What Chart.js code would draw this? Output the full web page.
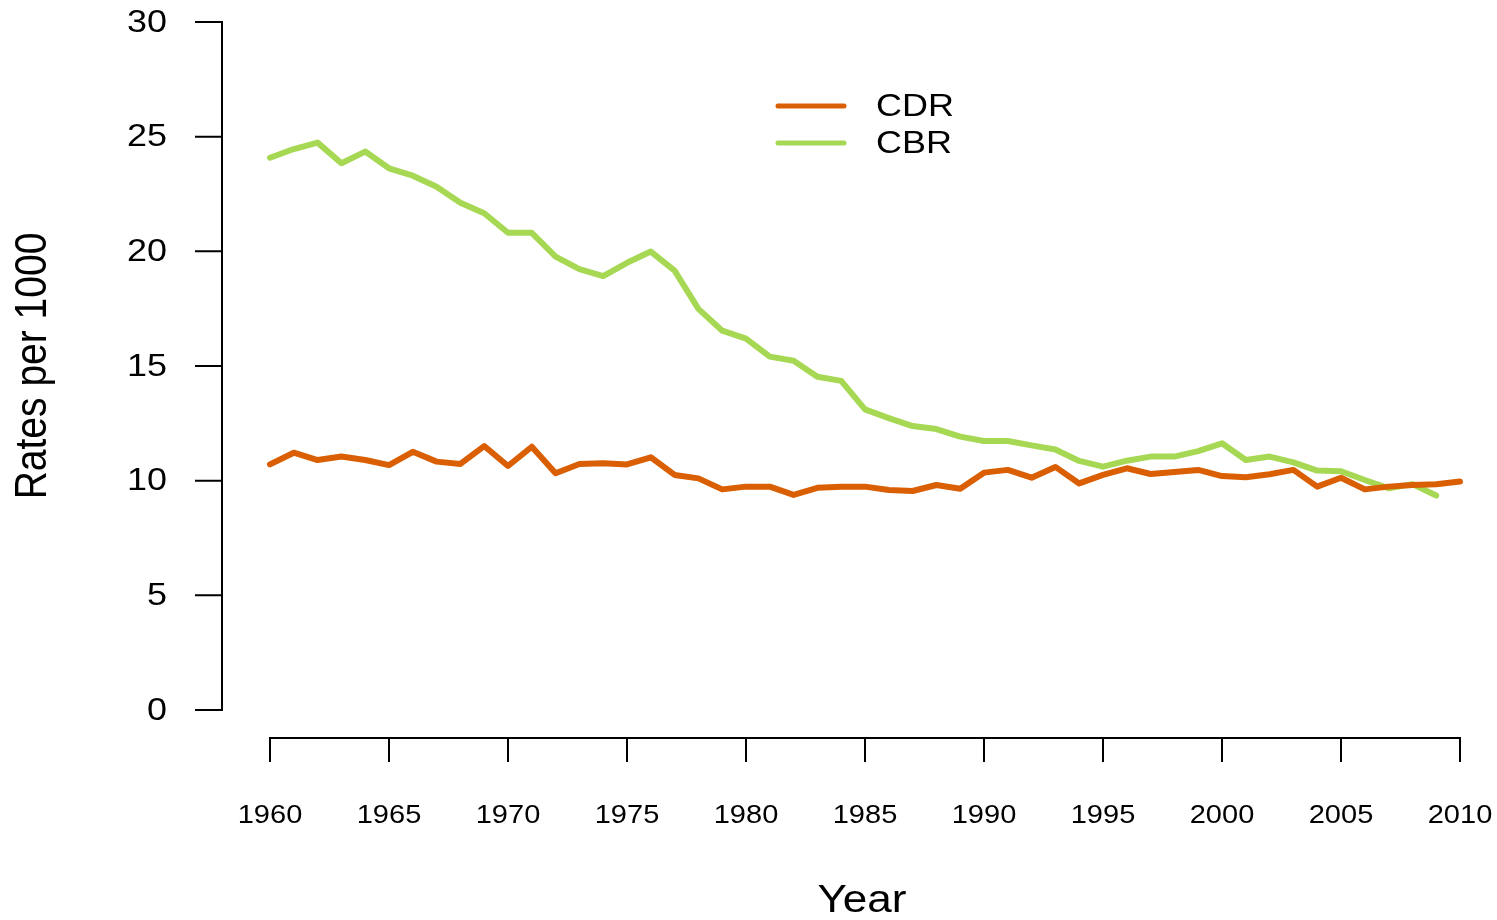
<!DOCTYPE html>
<html>
<head>
<meta charset="utf-8">
<script src="https://cdn.jsdelivr.net/npm/chart.js@4"></script>
<style>
  html, body { margin: 0; padding: 0; background: #fff; }
  #wrap { width: 1497px; height: 920px; position: relative; }
</style>
</head>
<body>
<div id="wrap"><canvas id="rates"></canvas></div>
<script>
const years = [1960, 1961, 1962, 1963, 1964, 1965, 1966, 1967, 1968, 1969,
               1970, 1971, 1972, 1973, 1974, 1975, 1976, 1977, 1978, 1979,
               1980, 1981, 1982, 1983, 1984, 1985, 1986, 1987, 1988, 1989,
               1990, 1991, 1992, 1993, 1994, 1995, 1996, 1997, 1998, 1999,
               2000, 2001, 2002, 2003, 2004, 2005, 2006, 2007, 2008, 2009,
               2010];

// crude death rate
const cdr = [10.71, 11.22, 10.90, 11.05, 10.90, 10.68, 11.26, 10.83, 10.73, 11.51,
             10.64, 11.48, 10.32, 10.73, 10.76, 10.71, 11.02, 10.25, 10.10, 9.62,
             9.74, 9.74, 9.38, 9.69, 9.74, 9.74, 9.59, 9.55, 9.81, 9.65,
             10.35, 10.47, 10.13, 10.60, 9.88, 10.25, 10.54, 10.29, 10.38, 10.47,
             10.20, 10.15, 10.28, 10.47, 9.74, 10.13, 9.62, 9.74, 9.81, 9.84,
             9.96];

// crude birth rate (no 2010 value)
const cbr = [24.08, 24.46, 24.74, 23.84, 24.35, 23.62, 23.30, 22.82, 22.12, 21.66,
             20.81, 20.81, 19.77, 19.22, 18.92, 19.50, 19.99, 19.16, 17.49, 16.54,
             16.19, 15.41, 15.23, 14.53, 14.35, 13.11, 12.73, 12.38, 12.25, 11.92,
             11.73, 11.73, 11.54, 11.36, 10.86, 10.61, 10.87, 11.05, 11.05, 11.29,
             11.63, 10.90, 11.05, 10.80, 10.44, 10.41, 10.03, 9.67, 9.85, 9.35];

const xTicks = [1960, 1965, 1970, 1975, 1980, 1985, 1990, 1995, 2000, 2005, 2010];
const yTicks = [0, 5, 10, 15, 20, 25, 30];
const seriesNames = ["CDR", "CBR"];
const xTitle = "Year";
const yTitle = "Rates per 1000";

const FONT = '"Liberation Sans", Arial, Helvetica, sans-serif';
const STRETCH = 1.16;

function stretchedText(ctx, text, x, y, size, align, baseline, rotate) {
    ctx.save();
    ctx.translate(x, y);
    ctx.scale(STRETCH, 1);
    if (rotate) ctx.rotate(-Math.PI / 2);
    ctx.font = `${size}px ${FONT}`;
    ctx.textAlign = align;
    ctx.textBaseline = baseline;
    ctx.fillStyle = "#000";
    ctx.fillText(text, 0, 0);
    ctx.restore();
}

// R-style detached axes, titles and legend
const baseAxes = {
    id: "baseAxes",
    afterDraw(chart) {
        const ctx = chart.ctx;
        const xs = chart.scales.x;
        const ys = chart.scales.y;
        const area = chart.chartArea;
        const axX = area.left - 48;
        const axY = area.bottom + 28;

        ctx.save();
        ctx.strokeStyle = "#000";
        ctx.lineWidth = 2;
        ctx.lineCap = "butt";

        // y axis
        ctx.beginPath();
        ctx.moveTo(axX, ys.getPixelForValue(yTicks[0]) + 1);
        ctx.lineTo(axX, ys.getPixelForValue(yTicks[yTicks.length - 1]) - 1);
        yTicks.forEach(t => {
            const py = ys.getPixelForValue(t);
            ctx.moveTo(axX, py);
            ctx.lineTo(axX - 27, py);
        });
        ctx.stroke();
        yTicks.forEach(t => {
            stretchedText(ctx, String(t), axX - 55, ys.getPixelForValue(t) + 1, 31, "right", "middle");
        });

        // x axis
        const px0 = xs.getPixelForValue(years.indexOf(xTicks[0]));
        const px1 = xs.getPixelForValue(years.indexOf(xTicks[xTicks.length - 1]));
        ctx.beginPath();
        ctx.moveTo(px0 - 1, axY);
        ctx.lineTo(px1 + 1, axY);
        xTicks.forEach(t => {
            const px = xs.getPixelForValue(years.indexOf(t));
            ctx.moveTo(px, axY);
            ctx.lineTo(px, axY + 24);
        });
        ctx.stroke();
        xTicks.forEach(t => {
            const px = xs.getPixelForValue(years.indexOf(t));
            stretchedText(ctx, String(t), px, axY + 78, 25, "center", "middle");
        });

        // titles
        stretchedText(ctx, xTitle, 862, 902, 38, "center", "middle");
        stretchedText(ctx, yTitle, 34, 366, 39, "center", "middle", true);

        // legend
        chart.data.datasets.forEach((ds, i) => {
            const ly = 106 + i * 37;
            ctx.strokeStyle = ds.borderColor;
            ctx.lineWidth = 5;
            ctx.lineCap = "round";
            ctx.beginPath();
            ctx.moveTo(778, ly);
            ctx.lineTo(844, ly);
            ctx.stroke();
            stretchedText(ctx, ds.label, 876, ly + 1, 31, "left", "middle");
        });
        ctx.restore();
    }
};

const lineStyle = {
    borderWidth: 6,
    pointRadius: 0,
    tension: 0,
    borderCapStyle: "round",
    borderJoinStyle: "round",
    fill: false
};

new Chart(document.getElementById("rates"), {
    type: "line",
    data: {
        labels: years,
        datasets: [
            { label: seriesNames[0], data: cdr, borderColor: "#D95F02", ...lineStyle },
            { label: seriesNames[1], data: cbr, borderColor: "#A6D854", ...lineStyle }
        ]
    },
    options: {
        animation: false,
        responsive: true,
        maintainAspectRatio: false,
        layout: { padding: { left: 270, top: 22, right: 37, bottom: 210 } },
        plugins: { legend: { display: false }, tooltip: { enabled: false } },
        scales: {
            x: { type: "category", display: false, offset: false },
            y: { type: "linear", display: false, min: 0, max: 30 }
        }
    },
    plugins: [baseAxes]
});
</script>
</body>
</html>
